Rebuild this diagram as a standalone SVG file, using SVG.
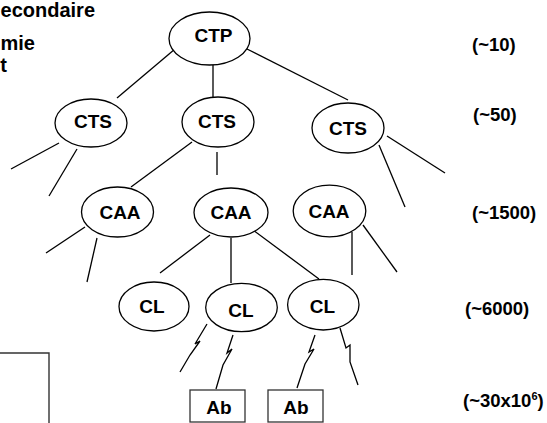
<svg xmlns="http://www.w3.org/2000/svg" width="547" height="423" viewBox="0 0 547 423">
<style>
  .n ellipse { fill: #fff; stroke: #000; stroke-width: 1.3; }
  .n rect { fill: #fff; stroke: #333; stroke-width: 1.3; }
  text { font-family: "Liberation Sans", Arial, sans-serif; font-weight: bold; fill: #000; }
  .nt { font-size: 19px; text-anchor: middle; }
  .lv { font-size: 18.5px; }
  .tl { font-size: 20px; text-anchor: end; }
  #edges line, #edges polyline { stroke: #000; stroke-width: 1.3; fill: none; }
</style>
<rect width="547" height="423" fill="#fff"/>

<text class="tl" x="95" y="17">econdaire</text>
<text class="tl" x="35" y="50">mie</text>
<text class="tl" x="7" y="72">t</text>

<polyline points="-1,353 49,353 49,424" fill="none" stroke="#333" stroke-width="1.4"/>

<g id="edges">
  <line x1="175" y1="49" x2="117" y2="98"/>
  <line x1="213" y1="65" x2="213" y2="97"/>
  <line x1="247" y1="49" x2="348" y2="100"/>
  <line x1="59" y1="143" x2="11" y2="169"/>
  <line x1="77" y1="149" x2="49" y2="196"/>
  <line x1="192" y1="142" x2="131" y2="187"/>
  <line x1="217" y1="152" x2="217" y2="175"/>
  <line x1="379" y1="145" x2="405" y2="207"/>
  <line x1="387" y1="136" x2="445" y2="173"/>
  <line x1="85" y1="227" x2="46" y2="253"/>
  <line x1="97" y1="238" x2="87" y2="282"/>
  <line x1="210" y1="235" x2="160" y2="273"/>
  <line x1="231" y1="238" x2="231" y2="283"/>
  <line x1="253" y1="230" x2="319" y2="279"/>
  <line x1="352" y1="232" x2="352" y2="275"/>
  <line x1="363" y1="225" x2="397" y2="272"/>
  <polyline points="207,324 195,344 200,341 190,355 180,372"/>
  <polyline points="233,335 227,353 232,349 223,365 216,389"/>
  <polyline points="315,335 309,352 314,349 305,364 297,388"/>
  <polyline points="340,328 346,348 350,345 350,362 358,385"/>
</g>

<g id="ctp" class="n"><ellipse cx="209.5" cy="38.5" rx="40.5" ry="26.5"/><text class="nt" x="213.5" y="42">CTP</text></g>
<g id="cts1" class="n"><ellipse cx="91" cy="123" rx="36" ry="24"/><text class="nt" x="93" y="128">CTS</text></g>
<g id="cts2" class="n"><ellipse cx="218" cy="122" rx="36" ry="25"/><text class="nt" x="217" y="128">CTS</text></g>
<g id="cts3" class="n"><ellipse cx="348" cy="128" rx="36" ry="25"/><text class="nt" x="348" y="135">CTS</text></g>
<g id="caa1" class="n"><ellipse cx="117.5" cy="212" rx="36" ry="25"/><text class="nt" x="120" y="219">CAA</text></g>
<g id="caa2" class="n"><ellipse cx="231" cy="212.5" rx="37" ry="24.5"/><text class="nt" x="231" y="219">CAA</text></g>
<g id="caa3" class="n"><ellipse cx="329.5" cy="211" rx="36.3" ry="25.8"/><text class="nt" x="329" y="218">CAA</text></g>
<g id="cl1" class="n"><ellipse cx="154" cy="306.5" rx="35" ry="24.5"/><text class="nt" x="152" y="313">CL</text></g>
<g id="cl2" class="n"><ellipse cx="241.5" cy="307.5" rx="35.8" ry="24.2"/><text class="nt" x="241" y="317">CL</text></g>
<g id="cl3" class="n"><ellipse cx="323.3" cy="304.7" rx="35.7" ry="25.3"/><text class="nt" x="322.5" y="313">CL</text></g>
<g id="ab1" class="n"><rect x="190" y="390" width="55" height="32"/><text class="nt" x="219" y="414">Ab</text></g>
<g id="ab2" class="n"><rect x="268" y="390" width="55" height="32"/><text class="nt" x="296" y="414">Ab</text></g>

<g id="levels">
  <text class="lv" x="472" y="51">(~10)</text>
  <text class="lv" x="473" y="121">(~50)</text>
  <text class="lv" x="472" y="219">(~1500)</text>
  <text class="lv" x="465" y="315">(~6000)</text>
  <text class="lv" x="463" y="407">(~30x10<tspan font-size="11" dy="-7">6</tspan><tspan dy="7">)</tspan></text>
</g>
</svg>
